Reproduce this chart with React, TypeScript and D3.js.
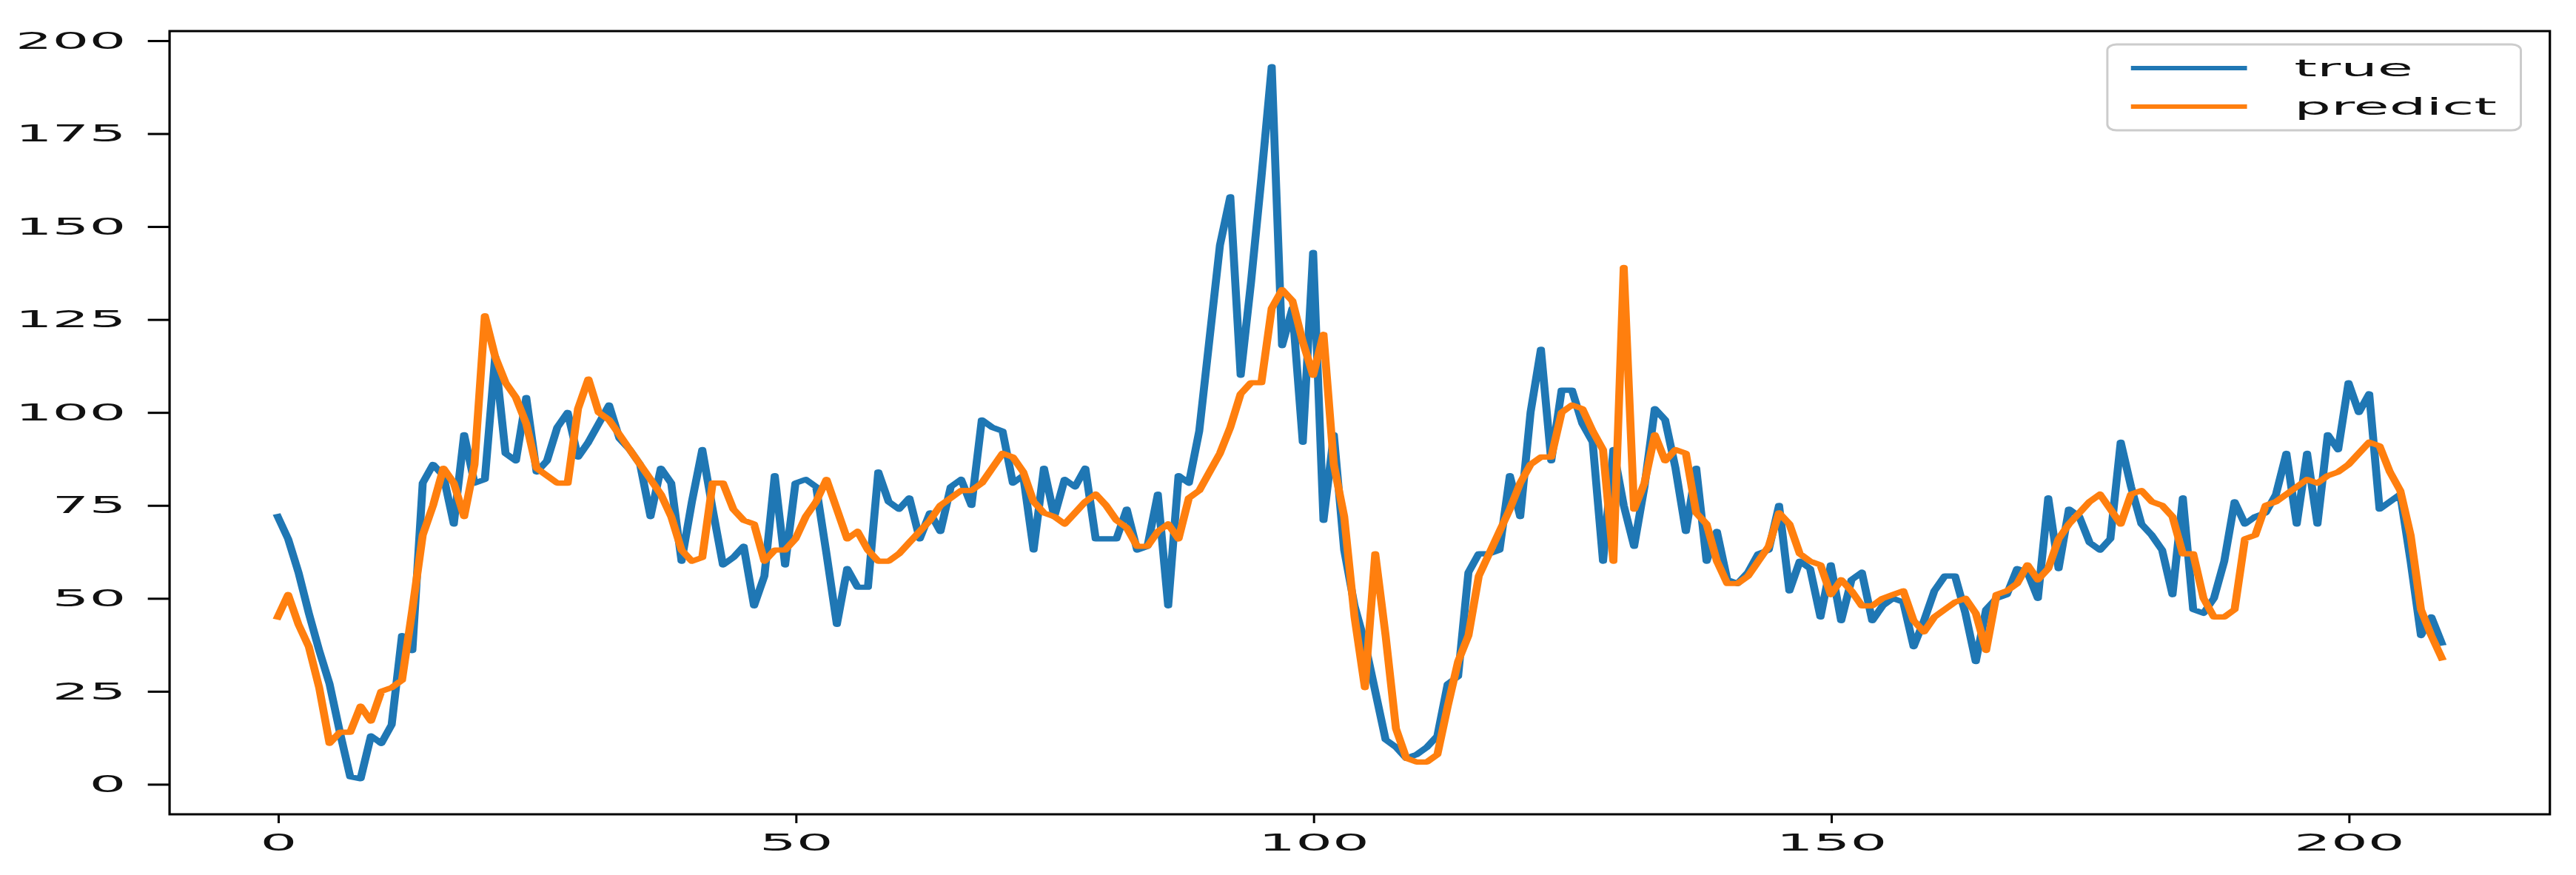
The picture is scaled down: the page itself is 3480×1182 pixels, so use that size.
import React, { Component } from "react";
import * as d3 from "d3";

// values, index 0..209
const trueValues = [
  72, 66, 57, 46, 36, 27, 14, 2, 1.5, 13,
  11, 16, 40, 36, 81, 86, 83, 70, 94, 81,
  82, 115, 89, 87, 104, 84, 87, 96, 100, 88,
  92, 97, 102, 93, 90, 86, 72, 85, 81, 60,
  76, 90, 74, 59, 61, 64, 48, 56, 83, 59,
  81, 82, 80, 62, 43, 58, 53, 53, 84, 76,
  74, 77, 66, 73, 68, 80, 82, 75, 98, 96,
  95, 81, 83, 63, 85, 72, 82, 80, 85, 66,
  66, 66, 74, 63, 64, 78, 48, 83, 81, 95,
  120, 145, 158, 110, 135, 163, 193, 118, 128, 92,
  143, 71, 94, 63, 48, 38, 25, 12, 10, 7,
  8, 10, 13, 27, 29, 57, 62, 62, 63, 83,
  72, 100, 117, 87, 106, 106, 97, 92, 60, 90,
  75, 64, 80, 101, 98, 85, 68, 85, 60, 68,
  55, 54, 57, 62, 63, 75, 52, 60, 58, 45,
  59, 44, 55, 57, 44, 48, 50, 49, 37, 44,
  52, 56, 56, 46, 33, 47, 50, 51, 58, 57,
  50, 77, 58, 74, 72, 65, 63, 66, 92, 80,
  70, 67, 63, 51, 77, 47, 46, 50, 60, 76,
  70, 72, 73, 78, 89, 70, 89, 70, 94, 90,
  108, 100, 105, 74, 76, 78, 60, 40, 45, 38,
];

const predictValues = [
  45, 51, 43, 37, 26, 11, 14, 14, 21, 17,
  25, 26, 28, 47, 67, 75, 85, 81, 72, 86,
  126, 115, 108, 104, 97, 85, 83, 81, 81, 101,
  109, 100, 98, 94, 90, 86, 82, 78, 72, 63,
  60, 61, 81, 81, 74, 71, 70, 60, 63, 63,
  66, 72, 76, 82, 74, 66, 68, 63, 60, 60,
  62, 65, 68, 71, 75, 77, 79, 79, 81, 85,
  89, 88, 84, 76, 73, 72, 70, 73, 76, 78,
  75, 71, 69, 64, 64, 68, 70, 66, 77, 79,
  84, 89, 96, 105, 108, 108, 128, 133, 130, 119,
  110, 121, 86, 72, 45, 26, 62, 40, 15, 7,
  6, 6, 8, 21, 33, 40, 56, 62, 68, 74,
  81, 86, 88, 88, 100, 102, 101, 95, 90, 60,
  139, 74, 81, 94, 87, 90, 89, 73, 70, 60,
  54, 54, 56, 60, 64, 73, 70, 62, 60, 59,
  51, 55, 52, 48, 48, 50, 51, 52, 44, 41,
  45, 47, 49, 50, 46, 36, 51, 52, 54, 59,
  55, 58, 66, 70, 73, 76, 78, 74, 70, 78,
  79, 76, 75, 72, 62, 62, 50, 45, 45, 47,
  66, 67, 75, 76, 78, 80, 82, 81, 83, 84,
  86, 89, 92, 91, 84, 79, 67, 47, 40, 34,
];

const seriesNames = ["true", "predict"];
const seriesColors = ["#1f77b4", "#ff7f0e"];
const yTicks = [0, 25, 50, 75, 100, 125, 150, 175, 200];
const xTicks = [0, 50, 100, 150, 200];

class App extends Component {
  svgRef = React.createRef<SVGSVGElement>();

  componentDidMount() {
    this.drawChart();
  }

  drawChart() {
    const W = 3480;
    const H = 1182;
    // the original picture is stretched sideways: draw in a narrow viewBox
    // and let preserveAspectRatio="none" widen the text
    const stretch = 2.45;
    const vbW = W / stretch;
    const left = 93.5, right = 1406, top = 42, bottom = 1100;
    const fontSize = 32;
    const tickLen = 12;
    // strokes are widened less than the text in the reference
    const strokeStretch = 1.5;
    const k = stretch / strokeStretch;

    const svg = d3.select(this.svgRef.current);
    svg.selectAll("*").remove();
    svg.attr("viewBox", `0 0 ${vbW} ${H}`).attr("preserveAspectRatio", "none");

    // matplotlib style autoscale: 5% margins
    const n = trueValues.length;
    const xPad = (n - 1) * 0.05;
    const xScale = d3.scaleLinear().domain([-xPad, n - 1 + xPad]).range([left, right]);

    const allVals = trueValues.concat(predictValues);
    const [yMin, yMax] = d3.extent(allVals) as [number, number];
    const yPad = (yMax - yMin) * 0.05;
    const yScale = d3.scaleLinear().domain([yMin - yPad, yMax + yPad]).range([bottom, top]);

    svg.append("rect").attr("width", vbW).attr("height", H).attr("fill", "white");

    // data lines live in a group squeezed by 1/k, x positions widened by k
    const plotG = svg.append("g").attr("transform", `scale(${1 / k},1)`);
    const lineGen = d3.line<number>()
      .x((d, i) => xScale(i) * k)
      .y(d => yScale(d));

    [trueValues, predictValues].forEach((vals, s) => {
      plotG.append("path")
        .datum(vals)
        .attr("d", lineGen)
        .attr("fill", "none")
        .attr("stroke", seriesColors[s])
        .attr("stroke-width", 7.2)
        .attr("stroke-linejoin", "round")
        .attr("stroke-linecap", "square");
    });

    // axes
    const yAxis = d3.axisLeft(yScale).tickValues(yTicks).tickSize(tickLen).tickPadding(tickLen);
    const xAxis = d3.axisBottom(xScale).tickValues(xTicks).tickSize(tickLen).tickPadding(tickLen + 2);

    const gy = svg.append("g").attr("transform", `translate(${left},0)`).call(yAxis);
    const gx = svg.append("g").attr("transform", `translate(0,${bottom})`).call(xAxis);

    [gx, gy].forEach(g => {
      g.select(".domain").remove();
      g.attr("font-family", "DejaVu Sans").attr("font-size", fontSize);
      g.selectAll("line")
        .attr("stroke", "black")
        .attr("stroke-width", 3)
        .attr("vector-effect", "non-scaling-stroke");
      g.selectAll("text").attr("fill", "#111");
    });

    // spines
    svg.append("rect")
      .attr("x", left).attr("y", top)
      .attr("width", right - left).attr("height", bottom - top)
      .attr("fill", "none").attr("stroke", "black")
      .attr("stroke-width", 3.2)
      .attr("vector-effect", "non-scaling-stroke");

    // legend, upper right
    const lgW = 228, lgH = 116;
    const lgX = right - 16 - lgW, lgY = top + 18;
    const legend = svg.append("g").attr("transform", `translate(${lgX},${lgY})`);
    legend.append("rect")
      .attr("width", lgW).attr("height", lgH)
      .attr("rx", 5).attr("ry", 8)
      .attr("fill", "white").attr("fill-opacity", 0.8)
      .attr("stroke", "#cccccc").attr("stroke-width", 3)
      .attr("vector-effect", "non-scaling-stroke");

    seriesNames.forEach((name, s) => {
      const cy = 32 + s * 52;
      legend.append("line")
        .attr("x1", 13).attr("x2", 77)
        .attr("y1", cy).attr("y2", cy)
        .attr("stroke", seriesColors[s]).attr("stroke-width", 6);
      legend.append("text")
        .attr("x", 103).attr("y", cy).attr("dy", "0.35em")
        .attr("font-family", "DejaVu Sans").attr("font-size", fontSize)
        .attr("fill", "#111")
        .text(name);
    });
  }

  render() {
    return (
      <svg
        ref={this.svgRef}
        width={3480}
        height={1182}
        style={{ position: "absolute", left: 0, top: 0, display: "block" }}
      />
    );
  }
}

export default App;
